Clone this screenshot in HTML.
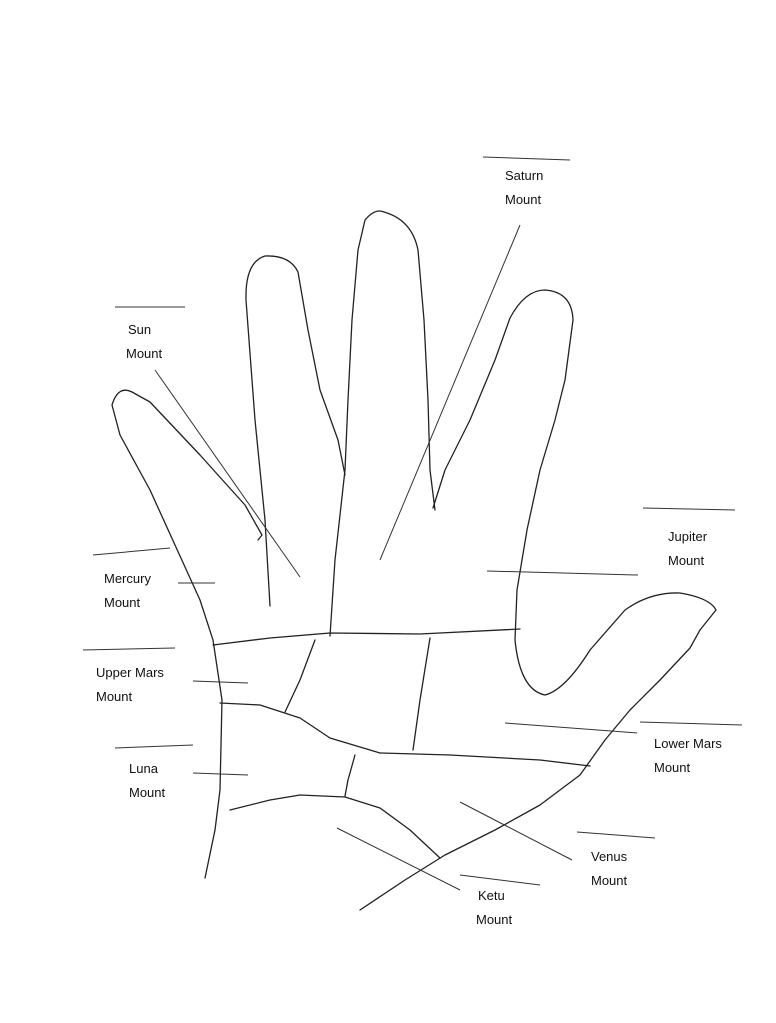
<!DOCTYPE html>
<html><head><meta charset="utf-8"><style>
html,body{margin:0;padding:0;background:#fff;}
svg{display:block}
text{font-family:"Liberation Sans",sans-serif;font-size:13px;fill:#111}
</style></head><body>
<svg width="776" height="1023" viewBox="0 0 776 1023" xmlns="http://www.w3.org/2000/svg">
<rect width="776" height="1023" fill="#fff"/>
<g fill="none" stroke="#222" stroke-width="1.3" stroke-linejoin="round" stroke-linecap="round">
<!-- hand outline -->
<path d="M205,878 L215,830 L220,790 L222,700 L213,640 L200,600 L175,545 L150,490 L120,435 L112,405 Q118,385 132,392 L150,402 L200,455 L245,505 L262,535 L258,540"/>
<path d="M270,606 L265,520 L255,420 L246,300 Q245,262 265,256 Q290,255 298,272 L308,330 L320,390 L338,440 L345,475"/>
<path d="M330,636 L335,560 L345,470 L348,400 L352,320 L358,250 L365,220 Q375,208 384,212 Q412,220 418,250 L424,320 L428,400 L430,470 L435,510"/>
<path d="M433,508 L445,470 L470,420 L495,360 L510,318 Q525,290 545,290 Q572,292 573,320 L565,380 L555,420 L540,470 L527,530 L517,590 L515,640 Q520,690 545,695 Q565,690 590,650 L625,610 Q650,592 680,593 Q710,598 716,610 L700,630 L690,648 L660,680 L630,710 L605,740 L580,775 L540,805 L495,830 L445,855 L405,880 L360,910"/>
<!-- palm lines -->
<path d="M213,645 L270,638 L330,633 L420,634 L520,629"/>
<path d="M315,640 L300,680 L285,712"/>
<path d="M430,638 L420,700 L413,750"/>
<path d="M220,703 L260,705 L300,718 L330,738 L380,753 L450,755 L540,760 L590,766"/>
<path d="M355,755 L348,780 L345,796"/>
<path d="M230,810 L270,800 L300,795 L345,797 L380,808 L410,830 L440,858"/>
</g>
<g stroke="#333" stroke-width="1" fill="none">
<line x1="483" y1="157" x2="570" y2="160"/>
<line x1="380" y1="560" x2="520" y2="225"/>
<line x1="115" y1="307" x2="185" y2="307"/>
<line x1="155" y1="370" x2="300" y2="577"/>
<line x1="643" y1="508" x2="735" y2="510"/>
<line x1="487" y1="571" x2="638" y2="575"/>
<line x1="93" y1="555" x2="170" y2="548"/>
<line x1="178" y1="583" x2="215" y2="583"/>
<line x1="83" y1="650" x2="175" y2="648"/>
<line x1="193" y1="681" x2="248" y2="683"/>
<line x1="115" y1="748" x2="193" y2="745"/>
<line x1="193" y1="773" x2="248" y2="775"/>
<line x1="640" y1="722" x2="742" y2="725"/>
<line x1="505" y1="723" x2="637" y2="733"/>
<line x1="577" y1="832" x2="655" y2="838"/>
<line x1="460" y1="802" x2="572" y2="860"/>
<line x1="460" y1="875" x2="540" y2="885"/>
<line x1="337" y1="828" x2="460" y2="890"/>
</g>
<text x="505" y="180">Saturn</text><text x="505" y="204">Mount</text>
<text x="128" y="334">Sun</text><text x="126" y="358">Mount</text>
<text x="668" y="541">Jupiter</text><text x="668" y="565">Mount</text>
<text x="104" y="583">Mercury</text><text x="104" y="607">Mount</text>
<text x="96" y="677">Upper Mars</text><text x="96" y="701">Mount</text>
<text x="129" y="773">Luna</text><text x="129" y="797">Mount</text>
<text x="654" y="748">Lower Mars</text><text x="654" y="772">Mount</text>
<text x="591" y="861">Venus</text><text x="591" y="885">Mount</text>
<text x="478" y="900">Ketu</text><text x="476" y="924">Mount</text>
</svg>
</body></html>
